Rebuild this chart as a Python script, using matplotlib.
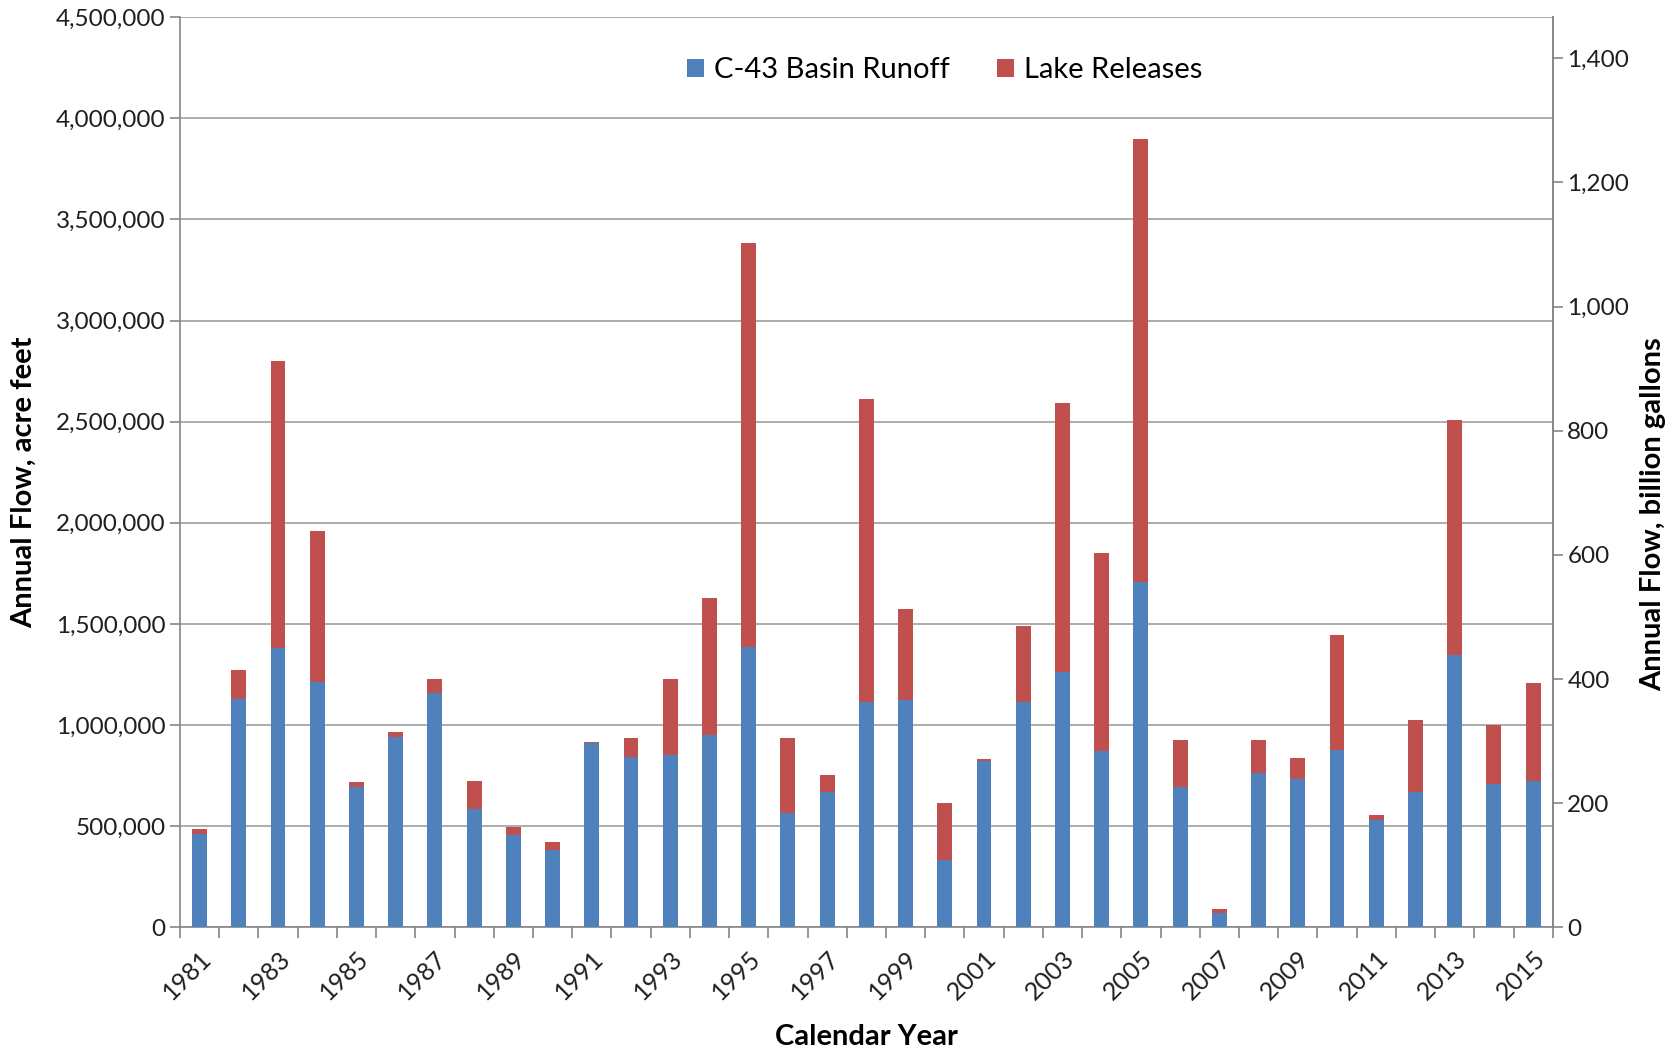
import matplotlib.pyplot as plt
import matplotlib.ticker as mticker
import numpy as np

years = list(range(1981, 2016))

# annual totals and basin runoff, acre feet
total_af = [487800, 1272600, 2799600, 1961800, 717000, 963500, 1229000, 724000, 496500, 422000,
            918000, 937500, 1229000, 1626700, 3382000, 937500, 755000, 2612000, 1576000, 616000,
            831600, 1487800, 2592000, 1849000, 3900000, 925000, 90000, 925000, 837000, 1446000,
            557000, 1026000, 2507000, 1000000, 1210000]
basin_runoff = [463500, 1128000, 1382000, 1211800, 692700, 939000, 1161000, 583000, 458000, 382000,
                913000, 843700, 850700, 953000, 1387000, 566000, 668000, 1114600, 1121500, 331600,
                824600, 1114600, 1260000, 869800, 1708000, 692700, 73000, 764000, 731000, 875000,
                533000, 668000, 1344000, 710000, 724000]
lake_releases = [t - b for t, b in zip(total_af, basin_runoff)]

GAL_PER_AF = 325851.0

plt.rcParams['font.family'] = ['Lato', 'DejaVu Sans']

fig = plt.figure(figsize=(16.79, 10.52), dpi=100)
ax = fig.add_axes([0.1072, 0.1185, 0.8176, 0.8652])

x = np.arange(len(years))
w = 0.38
ax.bar(x, basin_runoff, w, color='#4F81BD', label='C-43 Basin Runoff', zorder=3)
ax.bar(x, lake_releases, w, bottom=basin_runoff, color='#C0504D', label='Lake Releases', zorder=3)

ax.set_xlim(-0.5, len(years) - 0.5)
ax.set_ylim(0, 4500000)
ax.yaxis.set_major_locator(mticker.MultipleLocator(500000))
ax.yaxis.set_major_formatter(mticker.FuncFormatter(lambda v, p: f'{int(v):,}'))
ax.grid(axis='y', color='#A6A6A6', linewidth=1.3, zorder=0)

# labels every other year, tick marks between categories
ax.set_xticks(x[::2])
ax.set_xticklabels([str(y) for y in years[::2]], rotation=45, ha='right', rotation_mode='anchor')
ax.set_xticks(np.arange(-0.5, len(years)), minor=True)
ax.tick_params(axis='x', which='major', length=0, labelsize=18, pad=14, colors='#1F1F1F')
ax.tick_params(axis='x', which='minor', length=8, color='#868686', width=1.2)
ax.tick_params(axis='y', length=7, color='#868686', width=1.2, labelsize=17.5, colors='#1F1F1F')

ax.spines['top'].set_visible(False)
for s in ['left', 'right', 'bottom']:
    ax.spines[s].set_color('#868686')
    ax.spines[s].set_linewidth(1.2)

ax.set_ylabel('Annual Flow, acre feet', fontsize=21, fontweight='bold')
ax.yaxis.set_label_coords(-0.1045, 0.489)
ax.set_xlabel('Calendar Year', fontsize=21, fontweight='bold', labelpad=14)

ax2 = ax.twinx()
ax2.set_ylim(0, 4500000 * GAL_PER_AF / 1e9)
ax2.yaxis.set_major_locator(mticker.MultipleLocator(200))
ax2.yaxis.set_major_formatter(mticker.FuncFormatter(lambda v, p: f'{int(v):,}'))
ax2.tick_params(axis='y', length=7, color='#868686', width=1.2, labelsize=17.5, colors='#1F1F1F')
for s in ['top', 'left', 'bottom']:
    ax2.spines[s].set_visible(False)
ax2.spines['right'].set_color('#868686')
ax2.spines['right'].set_linewidth(1.2)
ax2.set_ylabel('Annual Flow, billion gallons', fontsize=21, fontweight='bold')
ax2.yaxis.set_label_coords(1.064, 0.454)

ax.legend(loc='upper center', bbox_to_anchor=(0.557, 0.985), ncol=2, frameon=False,
          fontsize=21, handlelength=0.6, handleheight=0.6, columnspacing=1.6, handletextpad=0.35)

fig.savefig('out.png', dpi=100)
